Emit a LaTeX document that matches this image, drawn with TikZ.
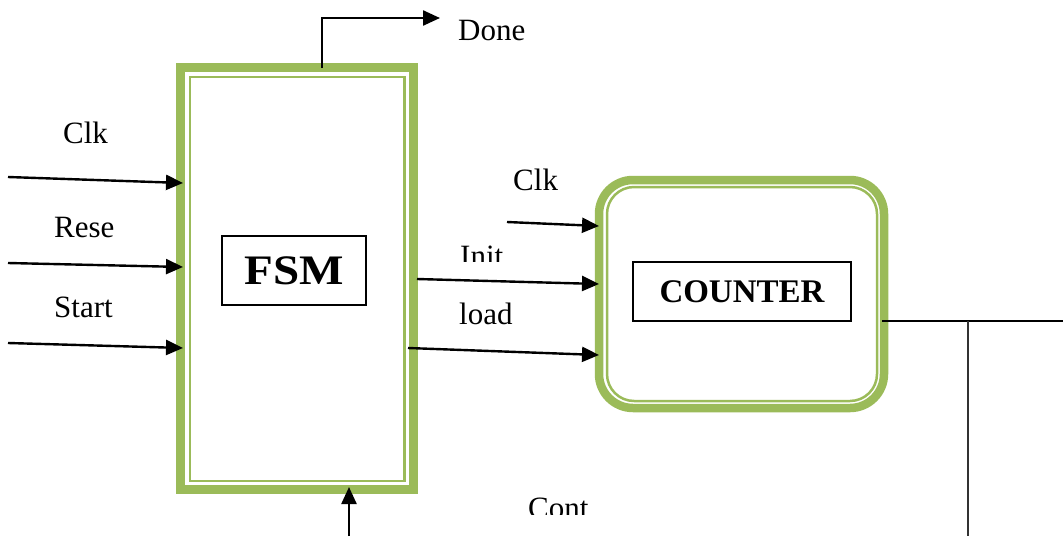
\documentclass[tikz,border=0pt]{standalone}
\usepackage{fontspec}
\setmainfont{Liberation Serif}
\usetikzlibrary{arrows.meta,calc}
\definecolor{rimgreen}{RGB}{155,187,89}
\begin{document}
\begin{tikzpicture}[x=1pt,y=-1pt,
  lbl/.style={font=\fontsize{31}{36}\selectfont, inner sep=0pt, anchor=base west},
  arr/.style={line width=2.4pt, -{Triangle[length=17pt,width=15pt]}},
  wire/.style={line width=2.4pt},
  rim/.style={draw=rimgreen, line width=8.5pt, outer sep=0pt},
  thinrim/.style={draw=rimgreen, line width=2.5pt},
  tag/.style={draw, line width=2pt, inner sep=0pt}]
\useasboundingbox (0,0) rectangle (1063,536);

% FSM block with its double green rim
\node[rim, minimum width=233pt, minimum height=422pt] (fsm) at (297,278.5) {};
\draw[thinrim] ([xshift=9.5pt,yshift=-9.5pt]fsm.north west) rectangle ([xshift=-9pt,yshift=8.5pt]fsm.south east);
\node[tag, minimum width=144pt, minimum height=69pt, font=\bfseries\fontsize{42}{42}\selectfont] (fsmtag) at (294,270.5) {\scalebox{1.12}[1]{FSM}};

% COUNTER block, rounded, with its double green rim
\node[rim, rounded corners=34pt, minimum width=285pt, minimum height=228pt] (cnt) at (741.5,294) {};
\draw[thinrim, rounded corners=27pt] ([xshift=8pt,yshift=-7pt]cnt.north west) rectangle ([xshift=-7pt,yshift=7pt]cnt.south east);
\node[tag, minimum width=218pt, minimum height=59pt, font=\bfseries\fontsize{33}{33}\selectfont] (cnttag) at (742,291.5) {COUNTER};

% free ends of the wires
\coordinate (clkIn) at (8,177);
\coordinate (rstIn) at (8,263);
\coordinate (startIn) at (8,343);
\coordinate (cclkIn) at (507,222);
\coordinate (doneEnd) at (440,18);
\coordinate (contIn) at (349,536);
\coordinate (outEnd) at (1063,321);
\coordinate (tap) at (968,321);
\coordinate (tapEnd) at (968,536);

% FSM inputs
\draw[arr] (clkIn) -- ([xshift=2.5pt,yshift=95.5pt]fsm.west);
\draw[arr] (rstIn) -- ([xshift=2.5pt,yshift=11.5pt]fsm.west);
\draw[arr] (startIn) -- ([xshift=2.5pt,yshift=-69.5pt]fsm.west);
\draw[arr] (contIn) -- ([xshift=52pt,yshift=2.5pt]fsm.south);

% FSM output
\draw[arr] ([xshift=25pt]fsm.north) |- (doneEnd);

% FSM to COUNTER
\draw[arr] ([xshift=3.5pt,yshift=-0.5pt]fsm.east) -- ([yshift=10pt]cnt.west);
\draw[arr] ([xshift=-5.5pt,yshift=-69.5pt]fsm.east) -- ([yshift=-61pt]cnt.west);
\draw[arr] (cclkIn) -- ([yshift=68pt]cnt.west);

% COUNTER output and its branch
\draw[wire] ([xshift=-2pt,yshift=-27pt]cnt.east) -- (outEnd);
\draw[wire, black!80] (tap) -- (tapEnd);

% signal names
\node[lbl] (lclk) at (63,143) {Clk};
\node[lbl] (lrst) at (54,237) {Rese};
\node[lbl] (lstart) at (54,317) {Start};
\node[lbl] (ldone) at (458,40) {Done};
\node[lbl] (lcclk) at (513,190) {Clk};
\node[lbl] (lload) at (459,324) {load};
\begin{scope}
  \clip (440,230) rectangle (530,261);
  \node[lbl] (linit) at (460,266) {Init};
\end{scope}
\begin{scope}
  \clip (510,480) rectangle (610,514);
  \node[lbl] (lcont) at (528,518) {Cont};
\end{scope}
\end{tikzpicture}
\end{document}
